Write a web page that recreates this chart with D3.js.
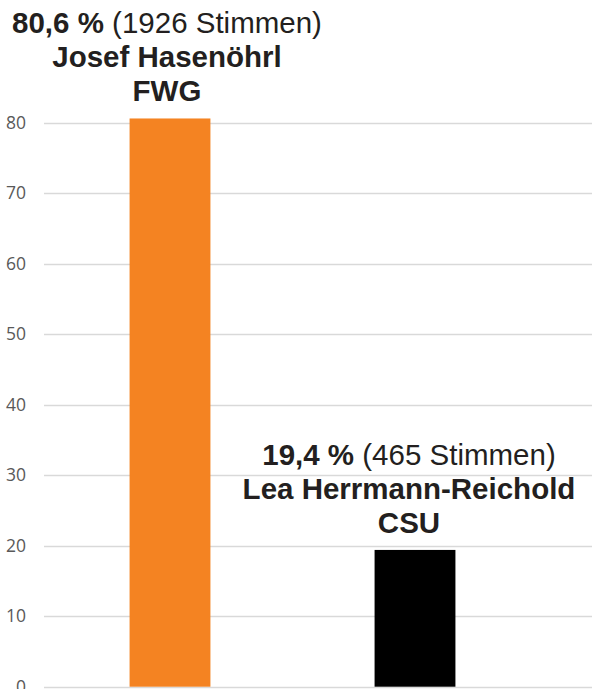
<!DOCTYPE html>
<html>
<head>
<meta charset="utf-8">
<script src="https://cdn.jsdelivr.net/npm/d3@7"></script>
<style>
  html, body { margin: 0; padding: 0; background: #fff; }
  svg { display: block; }
</style>
</head>
<body>
<svg id="chart" width="592" height="689"></svg>
<script>
const categories = ["Josef Hasenöhrl", "Lea Herrmann-Reichold"];
const parties = ["FWG", "CSU"];
const percents = [80.6, 19.4];
const percentLabels = ["80,6 %", "19,4 %"];
const votes = [1926, 465];
const colors = ["#F48322", "#000000"];
const yTicks = [0, 10, 20, 30, 40, 50, 60, 70, 80];

const svg = d3.select("#chart");
const W = 592;

const y = d3.scaleLinear().domain([0, 80]).range([686.7, 122.7]);
const x = d3.scaleBand().domain(categories).range([47.5, 537.5])
  .paddingInner(0.67).paddingOuter(0.335);

// gridlines
svg.append("g").selectAll("line").data(yTicks).join("line")
  .attr("x1", 44).attr("x2", W)
  .attr("y1", d => Math.round(y(d)) + 0.5).attr("y2", d => Math.round(y(d)) + 0.5)
  .attr("stroke", "#d9d9d9").attr("stroke-width", 1.5);

// y axis labels
const yAxis = d3.axisLeft(y).tickValues(yTicks).tickSize(0).tickPadding(0);
const ga = svg.append("g").attr("transform", "translate(26,0)").call(yAxis);
ga.select(".domain").remove();
ga.selectAll("text")
  .attr("font-family", "'Open Sans', sans-serif")
  .attr("font-size", 17.5)
  .attr("fill", "#595959");

// bars
const data = categories.map((c, i) => ({c, v: percents[i], color: colors[i], i}));
svg.append("g").selectAll("rect").data(data).join("rect")
  .attr("x", d => x(d.c))
  .attr("width", x.bandwidth())
  .attr("y", d => y(d.v))
  .attr("height", d => y(0) - y(d.v))
  .attr("fill", d => d.color);

// labels
const lbl = svg.append("g").selectAll("g").data(data).join("g")
  .attr("transform", d => `translate(${x(d.c) + x.bandwidth() / 2 - 3 - d.i * 3},${y(d.v) - 17})`);

lbl.each(function(d) {
  const g = d3.select(this);
  const common = t => t.attr("text-anchor", "middle")
    .attr("font-family", "'Liberation Sans', Arial, sans-serif")
    .attr("font-size", 29.5).attr("fill", "#231f20");
  const t1 = g.append("text").attr("y", -68).call(common);
  t1.append("tspan").attr("font-weight", "bold").text(percentLabels[d.i]);
  t1.append("tspan").text(` (${votes[d.i]} Stimmen)`);
  g.append("text").attr("y", -34).call(common).attr("font-weight", "bold").text(d.c);
  g.append("text").attr("y", 0).call(common).attr("font-weight", "bold").text(parties[d.i]);
});
</script>
</body>
</html>
